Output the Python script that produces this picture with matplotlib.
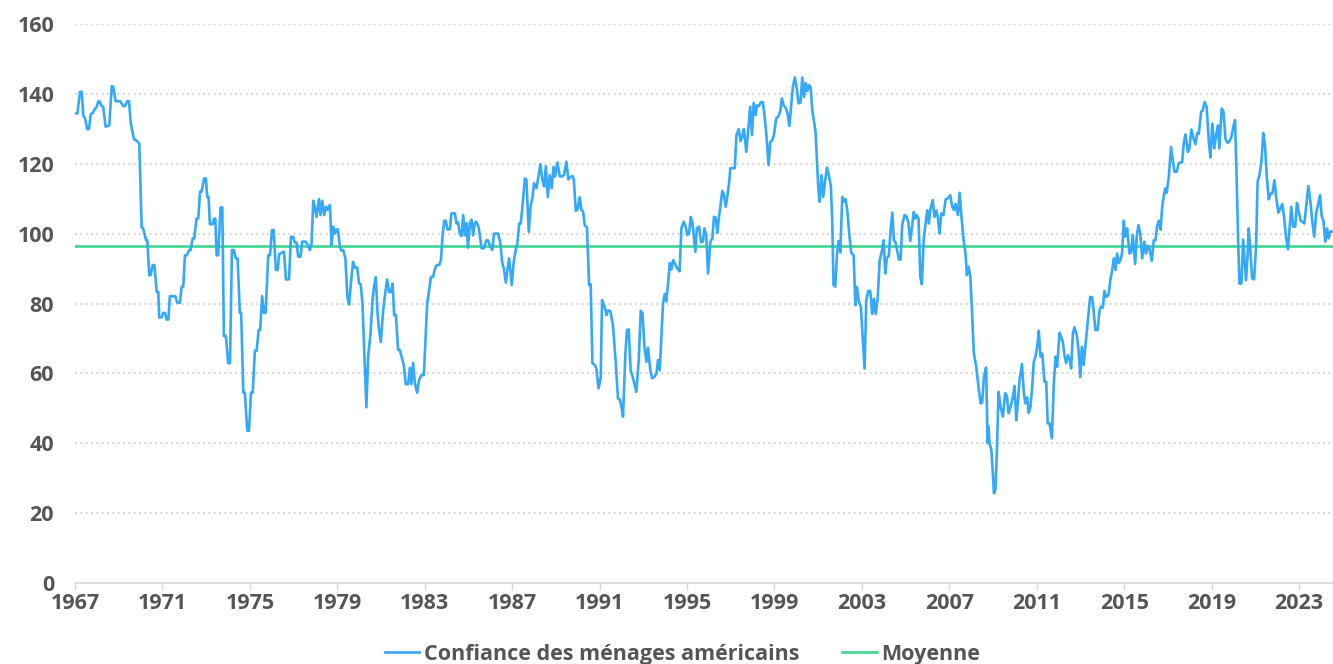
import matplotlib
matplotlib.use("Agg")
import matplotlib.pyplot as plt
import numpy as np

# Conference Board consumer confidence (decimal years)
dates = [
    1967.00, 1967.11, 1967.23, 1967.31, 1967.38, 1967.46, 1967.56, 1967.64, 1967.72, 1967.81,
    1967.87, 1967.99, 1968.07, 1968.14, 1968.22, 1968.29, 1968.40, 1968.57, 1968.68, 1968.75,
    1968.86, 1969.06, 1969.21, 1969.29, 1969.39, 1969.47, 1969.55, 1969.70, 1969.82, 1969.94,
    1970.05, 1970.12, 1970.25, 1970.31, 1970.40, 1970.46, 1970.55, 1970.63, 1970.74, 1970.81,
    1970.85, 1970.96, 1971.04, 1971.12, 1971.19, 1971.27, 1971.34, 1971.59, 1971.68, 1971.80,
    1971.88, 1971.95, 1972.03, 1972.11, 1972.23, 1972.29, 1972.38, 1972.45, 1972.56, 1972.64,
    1972.72, 1972.79, 1972.91, 1972.99, 1973.05, 1973.11, 1973.17, 1973.30, 1973.36, 1973.42,
    1973.48, 1973.55, 1973.66, 1973.74, 1973.81, 1973.90, 1974.01, 1974.09, 1974.18, 1974.27,
    1974.36, 1974.44, 1974.54, 1974.60, 1974.70, 1974.77, 1974.88, 1974.96, 1975.05, 1975.13,
    1975.23, 1975.31, 1975.40, 1975.47, 1975.56, 1975.64, 1975.72, 1975.84, 1975.92, 1976.01,
    1976.09, 1976.19, 1976.27, 1976.34, 1976.52, 1976.56, 1976.65, 1976.79, 1976.88, 1976.98,
    1977.06, 1977.14, 1977.21, 1977.32, 1977.39, 1977.55, 1977.62, 1977.75, 1977.82, 1977.90,
    1977.97, 1978.05, 1978.16, 1978.23, 1978.31, 1978.40, 1978.48, 1978.55, 1978.66, 1978.74,
    1978.81, 1978.89, 1978.97, 1979.03, 1979.12, 1979.19, 1979.27, 1979.37, 1979.46, 1979.54,
    1979.62, 1979.72, 1979.80, 1979.91, 1980.00, 1980.07, 1980.15, 1980.26, 1980.33, 1980.41,
    1980.52, 1980.61, 1980.68, 1980.76, 1980.84, 1980.91, 1980.99, 1981.10, 1981.17, 1981.28,
    1981.37, 1981.45, 1981.53, 1981.60, 1981.68, 1981.78, 1981.86, 1981.94, 1982.04, 1982.13,
    1982.24, 1982.32, 1982.39, 1982.47, 1982.55, 1982.65, 1982.74, 1982.85, 1982.96, 1983.04,
    1983.11, 1983.20, 1983.28, 1983.38, 1983.46, 1983.54, 1983.66, 1983.74, 1983.81, 1983.89,
    1983.96, 1984.04, 1984.15, 1984.22, 1984.38, 1984.45, 1984.53, 1984.60, 1984.68, 1984.76,
    1984.83, 1984.91, 1984.98, 1985.06, 1985.14, 1985.21, 1985.29, 1985.36, 1985.47, 1985.60,
    1985.70, 1985.82, 1985.90, 1986.00, 1986.09, 1986.17, 1986.36, 1986.46, 1986.54, 1986.63,
    1986.71, 1986.78, 1986.86, 1986.98, 1987.07, 1987.16, 1987.24, 1987.32, 1987.39, 1987.47,
    1987.58, 1987.65, 1987.76, 1987.84, 1987.93, 1988.00, 1988.11, 1988.18, 1988.29, 1988.38,
    1988.46, 1988.54, 1988.63, 1988.72, 1988.81, 1988.89, 1988.96, 1989.07, 1989.18, 1989.30,
    1989.37, 1989.48, 1989.57, 1989.67, 1989.76, 1989.82, 1989.91, 1989.99, 1990.09, 1990.17,
    1990.24, 1990.32, 1990.42, 1990.52, 1990.59, 1990.67, 1990.78, 1990.85, 1990.95, 1991.05,
    1991.11, 1991.23, 1991.31, 1991.38, 1991.49, 1991.61, 1991.74, 1991.84, 1991.92, 1992.00,
    1992.07, 1992.18, 1992.25, 1992.33, 1992.42, 1992.53, 1992.68, 1992.79, 1992.88, 1992.96,
    1993.05, 1993.14, 1993.21, 1993.32, 1993.40, 1993.52, 1993.60, 1993.67, 1993.75, 1993.83,
    1993.90, 1993.98, 1994.05, 1994.13, 1994.21, 1994.28, 1994.36, 1994.43, 1994.51, 1994.59,
    1994.66, 1994.74, 1994.84, 1994.94, 1995.01, 1995.09, 1995.17, 1995.24, 1995.30, 1995.38,
    1995.45, 1995.55, 1995.64, 1995.73, 1995.79, 1995.88, 1995.96, 1996.07, 1996.16, 1996.23,
    1996.31, 1996.39, 1996.46, 1996.54, 1996.61, 1996.67, 1996.77, 1996.84, 1996.92, 1996.98,
    1997.07, 1997.18, 1997.26, 1997.36, 1997.45, 1997.53, 1997.60, 1997.71, 1997.80, 1997.89,
    1997.97, 1998.05, 1998.14, 1998.20, 1998.29, 1998.37, 1998.47, 1998.55, 1998.63, 1998.73,
    1998.81, 1998.90, 1998.98, 1999.08, 1999.17, 1999.26, 1999.34, 1999.42, 1999.51, 1999.60,
    1999.68, 1999.75, 1999.84, 1999.93, 2000.03, 2000.10, 2000.19, 2000.27, 2000.35, 2000.43,
    2000.50, 2000.58, 2000.65, 2000.73, 2000.80, 2000.88, 2000.94, 2001.00, 2001.06, 2001.15,
    2001.23, 2001.31, 2001.40, 2001.49, 2001.58, 2001.64, 2001.70, 2001.78, 2001.86, 2001.93,
    2002.01, 2002.10, 2002.17, 2002.25, 2002.33, 2002.42, 2002.51, 2002.62, 2002.70, 2002.77,
    2002.86, 2002.95, 2003.04, 2003.12, 2003.20, 2003.29, 2003.38, 2003.47, 2003.55, 2003.63,
    2003.72, 2003.81, 2003.91, 2003.99, 2004.07, 2004.14, 2004.23, 2004.31, 2004.39, 2004.46,
    2004.54, 2004.62, 2004.69, 2004.77, 2004.84, 2004.95, 2005.03, 2005.12, 2005.21, 2005.30,
    2005.37, 2005.44, 2005.51, 2005.59, 2005.67, 2005.74, 2005.83, 2005.91, 2005.99, 2006.06,
    2006.14, 2006.24, 2006.32, 2006.40, 2006.47, 2006.55, 2006.63, 2006.73, 2006.83, 2006.93,
    2007.04, 2007.13, 2007.21, 2007.28, 2007.39, 2007.47, 2007.54, 2007.65, 2007.74, 2007.80,
    2007.88, 2007.96, 2008.04, 2008.12, 2008.23, 2008.33, 2008.43, 2008.50, 2008.58, 2008.68,
    2008.75, 2008.79, 2008.84, 2008.92, 2008.99, 2009.04, 2009.11, 2009.17, 2009.25, 2009.34,
    2009.45, 2009.55, 2009.63, 2009.71, 2009.80, 2009.90, 2009.98, 2010.06, 2010.13, 2010.21,
    2010.32, 2010.41, 2010.48, 2010.56, 2010.63, 2010.71, 2010.79, 2010.86, 2010.94, 2011.02,
    2011.09, 2011.17, 2011.25, 2011.35, 2011.43, 2011.50, 2011.58, 2011.69, 2011.78, 2011.86,
    2011.93, 2012.04, 2012.11, 2012.19, 2012.27, 2012.34, 2012.42, 2012.50, 2012.57, 2012.65,
    2012.72, 2012.83, 2012.91, 2012.99, 2013.06, 2013.14, 2013.22, 2013.29, 2013.37, 2013.44,
    2013.53, 2013.61, 2013.68, 2013.78, 2013.87, 2013.94, 2014.02, 2014.09, 2014.17, 2014.28,
    2014.37, 2014.45, 2014.52, 2014.60, 2014.67, 2014.75, 2014.83, 2014.90, 2014.98, 2015.05,
    2015.13, 2015.24, 2015.31, 2015.39, 2015.50, 2015.57, 2015.65, 2015.73, 2015.82, 2015.92,
    2016.00, 2016.07, 2016.15, 2016.26, 2016.35, 2016.43, 2016.50, 2016.58, 2016.66, 2016.73,
    2016.80, 2016.87, 2016.94, 2017.04, 2017.14, 2017.22, 2017.30, 2017.40, 2017.49, 2017.57,
    2017.65, 2017.72, 2017.80, 2017.91, 2017.98, 2018.07, 2018.17, 2018.26, 2018.34, 2018.41,
    2018.52, 2018.59, 2018.68, 2018.77, 2018.87, 2018.94, 2019.03, 2019.12, 2019.20, 2019.29,
    2019.35, 2019.46, 2019.54, 2019.63, 2019.72, 2019.81, 2019.90, 2019.99, 2020.07, 2020.14,
    2020.21, 2020.27, 2020.36, 2020.44, 2020.51, 2020.57, 2020.65, 2020.69, 2020.77, 2020.85,
    2020.94, 2021.03, 2021.10, 2021.18, 2021.27, 2021.36, 2021.44, 2021.52, 2021.61, 2021.70,
    2021.78, 2021.87, 2021.96, 2022.05, 2022.14, 2022.23, 2022.31, 2022.40, 2022.49, 2022.57,
    2022.64, 2022.73, 2022.82, 2022.90, 2022.98, 2023.07, 2023.15, 2023.24, 2023.33, 2023.42,
    2023.51, 2023.60, 2023.69, 2023.78, 2023.96, 2024.03, 2024.11, 2024.20, 2024.28, 2024.35,
    2024.43, 2024.51,
]
confidence = [
    134.4, 134.4, 140.6, 140.6, 133.7, 133.0, 129.9, 129.9, 134.2, 134.5,
    135.3, 136.3, 137.9, 137.7, 136.5, 136.3, 130.6, 131.0, 142.2, 142.0,
    137.9, 137.9, 136.5, 136.5, 137.9, 137.9, 131.7, 127.0, 126.6, 125.8,
    101.8, 101.4, 98.1, 98.0, 88.1, 88.1, 91.0, 91.0, 83.3, 83.3,
    76.0, 76.0, 77.3, 77.3, 75.4, 75.4, 82.1, 82.1, 80.2, 80.2,
    84.8, 84.8, 93.8, 93.8, 95.3, 95.3, 98.6, 98.6, 104.3, 104.3,
    112.0, 112.0, 115.8, 115.8, 110.5, 110.5, 102.7, 102.7, 104.3, 104.3,
    93.8, 93.8, 107.5, 107.5, 70.7, 70.7, 62.9, 62.9, 95.3, 95.3,
    92.9, 92.9, 77.3, 77.3, 54.5, 54.5, 43.6, 43.6, 54.5, 54.5,
    66.5, 66.5, 72.4, 72.4, 82.1, 77.3, 77.3, 93.8, 93.8, 101.0,
    101.0, 89.6, 89.6, 94.1, 94.8, 94.8, 86.9, 86.9, 99.1, 99.1,
    97.4, 97.4, 93.4, 93.4, 97.7, 97.7, 97.1, 95.3, 97.0, 109.4,
    107.7, 104.8, 109.9, 105.3, 109.4, 105.3, 107.7, 106.8, 108.2, 96.7,
    102.0, 100.0, 101.2, 101.2, 96.2, 95.1, 95.3, 92.9, 81.9, 79.7,
    85.7, 91.9, 90.3, 90.3, 85.7, 85.5, 80.0, 61.9, 50.3, 64.8,
    71.4, 81.0, 84.8, 87.5, 77.2, 72.4, 69.0, 78.1, 81.9, 86.9,
    83.3, 83.3, 85.7, 76.7, 76.7, 66.7, 66.7, 64.8, 62.4, 56.9,
    56.9, 61.6, 56.9, 63.0, 57.2, 54.5, 58.1, 59.5, 59.5, 70.5,
    80.0, 83.8, 87.6, 87.6, 89.8, 91.0, 91.0, 92.4, 99.1, 103.7,
    103.7, 101.2, 101.2, 105.8, 105.8, 102.9, 103.2, 100.0, 99.3, 105.3,
    99.5, 103.0, 96.0, 103.0, 104.0, 99.5, 103.0, 103.4, 101.7, 95.8,
    95.8, 98.1, 98.0, 96.3, 95.3, 100.0, 100.0, 97.2, 91.9, 89.7,
    86.0, 89.5, 92.9, 85.3, 91.9, 95.3, 97.2, 102.9, 102.9, 107.7,
    115.8, 115.4, 100.5, 107.7, 110.5, 114.4, 113.0, 115.5, 119.9, 115.4,
    113.5, 119.3, 110.5, 116.7, 113.0, 119.1, 116.3, 120.3, 116.4, 116.4,
    116.8, 120.6, 115.5, 116.2, 116.5, 115.4, 106.5, 106.9, 110.4, 106.7,
    106.5, 102.4, 101.8, 85.3, 85.5, 62.9, 62.4, 61.4, 55.7, 58.7,
    81.0, 79.1, 76.7, 78.0, 77.8, 73.8, 62.9, 52.8, 52.5, 50.4,
    47.6, 65.7, 72.4, 72.6, 60.9, 58.6, 54.7, 63.8, 77.9, 77.2,
    67.6, 63.3, 67.4, 60.9, 58.6, 59.1, 60.0, 63.8, 60.9, 71.4,
    80.0, 82.7, 80.6, 85.7, 91.6, 89.7, 92.4, 91.6, 90.5, 89.7,
    89.2, 101.5, 103.4, 101.9, 99.6, 100.0, 104.8, 103.4, 100.0, 94.8,
    101.5, 102.0, 97.5, 97.7, 101.5, 99.6, 88.6, 97.7, 98.7, 104.8,
    104.6, 100.2, 104.8, 108.6, 112.2, 111.5, 107.7, 110.6, 114.4, 118.7,
    118.8, 118.7, 128.2, 129.9, 126.5, 128.0, 129.9, 123.4, 130.0, 136.3,
    128.2, 137.4, 133.9, 136.7, 136.5, 137.6, 137.6, 133.4, 128.2, 119.6,
    126.3, 126.7, 128.4, 133.0, 133.5, 134.9, 138.7, 136.7, 136.0, 134.4,
    130.8, 135.8, 142.0, 144.7, 141.1, 137.3, 137.5, 144.7, 139.1, 143.1,
    140.8, 142.5, 142.0, 135.3, 132.5, 129.1, 121.5, 113.4, 109.1, 116.7,
    110.5, 114.8, 118.9, 116.7, 113.4, 103.9, 85.3, 84.8, 94.3, 97.9,
    94.6, 110.5, 109.2, 109.9, 106.7, 99.9, 94.5, 93.8, 79.5, 84.8,
    80.5, 79.1, 70.0, 61.4, 81.0, 83.6, 83.6, 77.0, 81.4, 77.0,
    81.4, 92.4, 94.8, 98.1, 88.6, 93.1, 93.6, 101.0, 106.0, 98.1,
    97.5, 94.8, 92.6, 92.6, 102.4, 105.3, 105.0, 103.4, 97.9, 102.4,
    106.2, 104.3, 105.3, 104.3, 87.6, 85.5, 98.6, 102.9, 106.7, 102.9,
    107.2, 109.6, 104.8, 106.6, 104.8, 100.0, 105.8, 105.3, 109.8, 110.1,
    111.0, 107.7, 106.8, 108.5, 105.3, 111.7, 105.8, 98.1, 94.3, 88.1,
    90.5, 87.6, 77.2, 65.7, 61.9, 56.2, 51.4, 51.6, 59.0, 61.7,
    40.0, 44.7, 39.9, 38.1, 31.4, 25.7, 26.9, 37.1, 54.7, 50.4,
    47.6, 54.3, 53.6, 48.6, 50.4, 53.1, 56.4, 46.6, 51.4, 58.1,
    62.7, 54.3, 51.4, 53.1, 48.7, 50.4, 56.2, 63.3, 64.8, 67.6,
    72.2, 64.8, 65.7, 57.6, 57.6, 45.7, 45.8, 41.4, 57.3, 64.8,
    61.9, 71.6, 70.5, 69.0, 65.2, 62.9, 65.2, 64.0, 61.4, 71.4,
    73.2, 70.9, 66.7, 58.9, 67.6, 62.4, 67.6, 72.4, 77.2, 81.9,
    81.8, 77.2, 72.4, 72.4, 78.1, 79.1, 78.8, 83.6, 81.9, 82.4,
    86.9, 89.6, 92.9, 89.6, 94.3, 91.6, 92.5, 94.3, 103.7, 99.1,
    101.5, 94.3, 94.5, 99.6, 91.3, 99.1, 102.4, 100.2, 92.9, 97.7,
    94.3, 96.5, 95.8, 92.2, 98.1, 98.1, 102.0, 103.7, 101.1, 107.2,
    110.5, 112.9, 111.7, 116.3, 124.8, 121.0, 117.7, 117.7, 120.1, 120.4,
    120.4, 125.8, 128.4, 123.4, 124.3, 129.8, 127.3, 125.6, 128.8, 128.6,
    134.9, 135.2, 137.7, 136.3, 126.3, 121.8, 131.5, 124.4, 128.1, 131.0,
    124.4, 135.8, 134.9, 127.2, 126.0, 126.3, 127.7, 130.6, 132.5, 116.3,
    98.1, 85.7, 85.7, 98.3, 92.0, 86.7, 94.3, 101.5, 95.3, 87.2,
    86.9, 96.2, 114.8, 116.7, 120.1, 128.8, 125.3, 116.4, 109.8, 111.5,
    111.5, 115.3, 110.0, 106.0, 107.2, 108.5, 104.8, 99.1, 95.5, 102.0,
    107.7, 102.0, 102.0, 108.8, 106.3, 103.7, 103.4, 102.9, 108.2, 113.6,
    109.6, 103.7, 99.1, 105.8, 111.0, 105.1, 103.7, 97.7, 101.5, 98.6,
    100.6, 100.6,
]
average = 96.4
tick_years = list(range(1967, 2024, 4))

blue = "#35a9f8"
green = "#3fd68f"
text_grey = "#555555"

plt.rcParams["font.family"] = ["Open Sans", "DejaVu Sans"]
plt.rcParams["font.weight"] = "bold"

fig = plt.figure(figsize=(13.33, 6.64), dpi=100)
ax = fig.add_axes([75 / 1333, 81 / 664, 1258 / 1333, 559 / 664])

ax.plot(dates, confidence, color=blue, linewidth=1.9, label="Confiance des ménages américains",
        solid_joinstyle="round", zorder=3)
ax.axhline(average, color=green, linewidth=1.9, label="Moyenne", zorder=2)

ax.set_xlim(1967, 2024.55)
ax.set_ylim(0, 160)
ax.set_yticks(range(0, 161, 20))
ax.set_xticks(tick_years)
ax.set_xticklabels([str(y) for y in tick_years])

ax.grid(axis="y", color="#c8c8c8", linestyle=(0, (1, 2.2)), linewidth=1.2)
ax.set_axisbelow(True)
for side in ["top", "right", "left"]:
    ax.spines[side].set_visible(False)
ax.spines["bottom"].set_color("#d9d9d9")
ax.spines["bottom"].set_linewidth(1.2)
ax.spines["bottom"].set_zorder(4)

ax.tick_params(axis="y", length=0, pad=15, labelsize=15.5, labelcolor=text_grey)
ax.tick_params(axis="x", length=5, width=1, color="#d9d9d9", pad=2, labelsize=15.5,
               labelcolor=text_grey)
for lab in ax.get_xticklabels() + ax.get_yticklabels():
    lab.set_fontweight("bold")

fig.legend(loc="lower center", bbox_to_anchor=(0.512, -0.03), ncol=2, frameon=False,
           handlelength=1.6, handletextpad=0.2, columnspacing=2.0,
           labelcolor=text_grey, prop={"weight": "bold", "size": 15.5})

fig.savefig("out.png", dpi=100)
